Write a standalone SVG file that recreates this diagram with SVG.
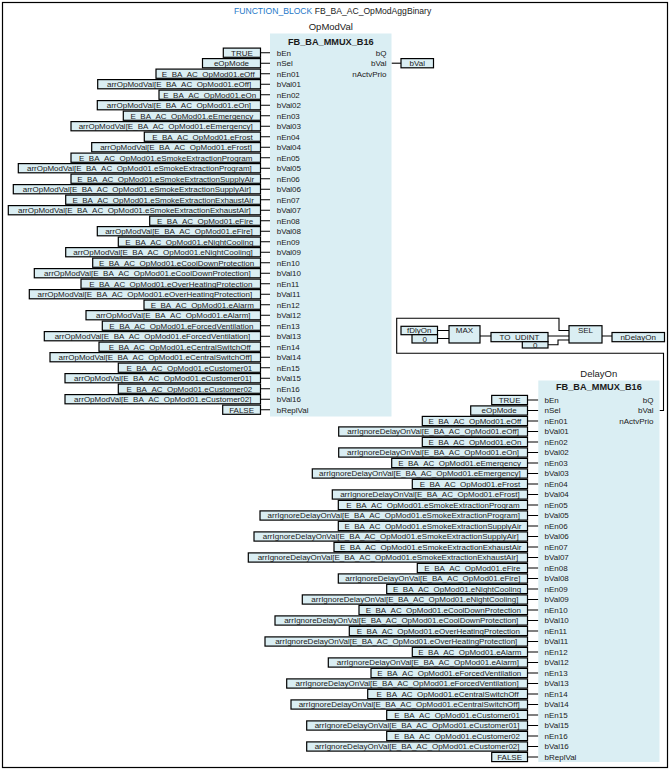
<svg xmlns="http://www.w3.org/2000/svg" width="672" height="771" viewBox="0 0 672 771">
<style>
text{font-family:"Liberation Sans",Arial,sans-serif;font-size:8px;fill:#1a1a1a}
.c{text-anchor:middle}
.r{text-anchor:end}
.ib{fill:#DAEEF3;stroke:#000;stroke-width:1.2}
.blk{fill:#DAEEF3}
.ttl{font-weight:bold;font-size:9.2px;text-anchor:middle}
.inst{font-size:9.5px;text-anchor:middle}
.kw{fill:#1E78C8}
.cn{fill:none;stroke:#000;stroke-width:1.1}
</style>
<rect x="2.5" y="2.5" width="665" height="765" fill="#fff" stroke="#000" stroke-width="1.2"/>
<text x="234" y="13.5" style="font-size:8.6px"><tspan class="kw">FUNCTION_BLOCK</tspan> FB_BA_AC_OpModAggBinary</text>

<g id="connectors">
<path class="cn" d="M260.5 52.7H270M260.5 63.2H270M260.5 73.7H270M260.5 84.2H270M260.5 94.7H270M260.5 105.2H270M260.5 115.7H270M260.5 126.2H270M260.5 136.7H270M260.5 147.2H270M260.5 157.7H270M260.5 168.2H270M260.5 178.7H270M260.5 189.2H270M260.5 199.7H270M260.5 210.2H270M260.5 220.7H270M260.5 231.2H270M260.5 241.7H270M260.5 252.2H270M260.5 262.7H270M260.5 273.2H270M260.5 283.7H270M260.5 294.2H270M260.5 304.7H270M260.5 315.2H270M260.5 325.7H270M260.5 336.2H270M260.5 346.7H270M260.5 357.2H270M260.5 367.7H270M260.5 378.2H270M260.5 388.7H270M260.5 399.2H270M260.5 409.7H270"/>
<path class="cn" d="M527.5 400H538.3M527.5 410.5H538.3M527.5 421H538.3M527.5 431.5H538.3M527.5 442H538.3M527.5 452.5H538.3M527.5 463H538.3M527.5 473.5H538.3M527.5 484H538.3M527.5 494.5H538.3M527.5 505H538.3M527.5 515.5H538.3M527.5 526H538.3M527.5 536.5H538.3M527.5 547H538.3M527.5 557.5H538.3M527.5 568H538.3M527.5 578.5H538.3M527.5 589H538.3M527.5 599.5H538.3M527.5 610H538.3M527.5 620.5H538.3M527.5 631H538.3M527.5 641.5H538.3M527.5 652H538.3M527.5 662.5H538.3M527.5 673H538.3M527.5 683.5H538.3M527.5 694H538.3M527.5 704.5H538.3M527.5 715H538.3M527.5 725.5H538.3M527.5 736H538.3M527.5 746.5H538.3M527.5 757H538.3"/>
<path class="cn" d="M391.5 63.2H401"/>
<path class="cn" d="M659.5 410.5H663.5V353.3H396.7V318.3H559V330.5H569"/>
<path class="cn" d="M437.5 330.5H449M437.5 338.5H449M480 336H491M548 336H569M548 344.7H558V340H569M602 336H612"/>
</g>

<g id="OpModVal">
<text class="inst" x="330.8" y="30">OpModVal</text>
<rect class="blk" x="270" y="33.5" width="121.5" height="383"/>
<text class="ttl" x="330.8" y="44.5">FB_BA_MMUX_B16</text>
<text x="276.7" y="55.6">bEn</text><text x="276.7" y="66.1">nSel</text>
<text x="276.7" y="76.6">nEn01</text><text x="276.7" y="87.1">bVal01</text>
<text x="276.7" y="97.6">nEn02</text><text x="276.7" y="108.1">bVal02</text>
<text x="276.7" y="118.6">nEn03</text><text x="276.7" y="129.1">bVal03</text>
<text x="276.7" y="139.6">nEn04</text><text x="276.7" y="150.1">bVal04</text>
<text x="276.7" y="160.6">nEn05</text><text x="276.7" y="171.1">bVal05</text>
<text x="276.7" y="181.6">nEn06</text><text x="276.7" y="192.1">bVal06</text>
<text x="276.7" y="202.6">nEn07</text><text x="276.7" y="213.1">bVal07</text>
<text x="276.7" y="223.6">nEn08</text><text x="276.7" y="234.1">bVal08</text>
<text x="276.7" y="244.6">nEn09</text><text x="276.7" y="255.1">bVal09</text>
<text x="276.7" y="265.6">nEn10</text><text x="276.7" y="276.1">bVal10</text>
<text x="276.7" y="286.6">nEn11</text><text x="276.7" y="297.1">bVal11</text>
<text x="276.7" y="307.6">nEn12</text><text x="276.7" y="318.1">bVal12</text>
<text x="276.7" y="328.6">nEn13</text><text x="276.7" y="339.1">bVal13</text>
<text x="276.7" y="349.6">nEn14</text><text x="276.7" y="360.1">bVal14</text>
<text x="276.7" y="370.6">nEn15</text><text x="276.7" y="381.1">bVal15</text>
<text x="276.7" y="391.6">nEn16</text><text x="276.7" y="402.1">bVal16</text>
<text x="276.7" y="412.6">bReplVal</text>
<text class="r" x="386.5" y="55.6">bQ</text>
<text class="r" x="386.5" y="66.1">bVal</text>
<text class="r" x="386.5" y="76.6">nActvPrio</text>
</g>
<g id="out-bVal"><rect class="ib" x="401" y="58.6" width="32.5" height="9.2"/><text class="c" x="417.2" y="66.1">bVal</text></g>

<g id="a00"><rect class="ib" x="223.3" y="48.1" width="37.2" height="9.2"/><text class="c" x="241.9" y="55.6">TRUE</text></g>
<g id="a01"><rect class="ib" x="202.5" y="58.6" width="58" height="9.2"/><text class="c" x="231.5" y="66.1">eOpMode</text></g>
<g id="a02"><rect class="ib" x="156" y="69.1" width="104.5" height="9.2"/><text class="c" x="208.25" y="76.6">E_BA_AC_OpMod01.eOff</text></g>
<g id="a03"><rect class="ib" x="97.7" y="79.6" width="162.8" height="9.2"/><text class="c" x="179.1" y="87.1">arrOpModVal[E_BA_AC_OpMod01.eOff]</text></g>
<g id="a04"><rect class="ib" x="159" y="90.1" width="101.5" height="9.2"/><text class="c" x="209.75" y="97.6">E_BA_AC_OpMod01.eOn</text></g>
<g id="a05"><rect class="ib" x="97.3" y="100.6" width="163.2" height="9.2"/><text class="c" x="178.9" y="108.1">arrOpModVal[E_BA_AC_OpMod01.eOn]</text></g>
<g id="a06"><rect class="ib" x="123.3" y="111.1" width="137.2" height="9.2"/><text class="c" x="191.9" y="118.6">E_BA_AC_OpMod01.eEmergency</text></g>
<g id="a07"><rect class="ib" x="71" y="121.6" width="189.5" height="9.2"/><text class="c" x="165.75" y="129.1">arrOpModVal[E_BA_AC_OpMod01.eEmergency]</text></g>
<g id="a08"><rect class="ib" x="144.3" y="132.1" width="116.2" height="9.2"/><text class="c" x="202.4" y="139.6">E_BA_AC_OpMod01.eFrost</text></g>
<g id="a09"><rect class="ib" x="91.7" y="142.6" width="168.8" height="9.2"/><text class="c" x="176.1" y="150.1">arrOpModVal[E_BA_AC_OpMod01.eFrost]</text></g>
<g id="a10"><rect class="ib" x="71" y="153.1" width="189.5" height="9.2"/><text class="c" x="165.75" y="160.6">E_BA_AC_OpMod01.eSmokeExtractionProgram</text></g>
<g id="a11"><rect class="ib" x="18.3" y="163.6" width="242.2" height="9.2"/><text class="c" x="139.4" y="171.1">arrOpModVal[E_BA_AC_OpMod01.eSmokeExtractionProgram]</text></g>
<g id="a12"><rect class="ib" x="71" y="174.1" width="189.5" height="9.2"/><text class="c" x="165.75" y="181.6">E_BA_AC_OpMod01.eSmokeExtractionSupplyAir</text></g>
<g id="a13"><rect class="ib" x="13.3" y="184.6" width="247.2" height="9.2"/><text class="c" x="136.9" y="192.1">arrOpModVal[E_BA_AC_OpMod01.eSmokeExtractionSupplyAir]</text></g>
<g id="a14"><rect class="ib" x="65.7" y="195.1" width="194.8" height="9.2"/><text class="c" x="163.1" y="202.6">E_BA_AC_OpMod01.eSmokeExtractionExhaustAir</text></g>
<g id="a15"><rect class="ib" x="8.3" y="205.6" width="252.2" height="9.2"/><text class="c" x="134.4" y="213.1">arrOpModVal[E_BA_AC_OpMod01.eSmokeExtractionExhaustAir]</text></g>
<g id="a16"><rect class="ib" x="149.7" y="216.1" width="110.8" height="9.2"/><text class="c" x="205.1" y="223.6">E_BA_AC_OpMod01.eFire</text></g>
<g id="a17"><rect class="ib" x="97.3" y="226.6" width="163.2" height="9.2"/><text class="c" x="178.9" y="234.1">arrOpModVal[E_BA_AC_OpMod01.eFire]</text></g>
<g id="a18"><rect class="ib" x="118.3" y="237.1" width="142.2" height="9.2"/><text class="c" x="189.4" y="244.6">E_BA_AC_OpMod01.eNightCooling</text></g>
<g id="a19"><rect class="ib" x="65.7" y="247.6" width="194.8" height="9.2"/><text class="c" x="163.1" y="255.1">arrOpModVal[E_BA_AC_OpMod01.eNightCooling]</text></g>
<g id="a20"><rect class="ib" x="92.7" y="258.1" width="167.8" height="9.2"/><text class="c" x="176.6" y="265.6">E_BA_AC_OpMod01.eCoolDownProtection</text></g>
<g id="a21"><rect class="ib" x="34.3" y="268.6" width="226.2" height="9.2"/><text class="c" x="147.4" y="276.1">arrOpModVal[E_BA_AC_OpMod01.eCoolDownProtection]</text></g>
<g id="a22"><rect class="ib" x="81" y="279.1" width="179.5" height="9.2"/><text class="c" x="170.75" y="286.6">E_BA_AC_OpMod01.eOverHeatingProtection</text></g>
<g id="a23"><rect class="ib" x="29.3" y="289.6" width="231.2" height="9.2"/><text class="c" x="144.9" y="297.1">arrOpModVal[E_BA_AC_OpMod01.eOverHeatingProtection]</text></g>
<g id="a24"><rect class="ib" x="144" y="300.1" width="116.5" height="9.2"/><text class="c" x="202.25" y="307.6">E_BA_AC_OpMod01.eAlarm</text></g>
<g id="a25"><rect class="ib" x="86" y="310.6" width="174.5" height="9.2"/><text class="c" x="173.25" y="318.1">arrOpModVal[E_BA_AC_OpMod01.eAlarm]</text></g>
<g id="a26"><rect class="ib" x="102.3" y="321.1" width="158.2" height="9.2"/><text class="c" x="181.4" y="328.6">E_BA_AC_OpMod01.eForcedVentilation</text></g>
<g id="a27"><rect class="ib" x="44.3" y="331.6" width="216.2" height="9.2"/><text class="c" x="152.4" y="339.1">arrOpModVal[E_BA_AC_OpMod01.eForcedVentilation]</text></g>
<g id="a28"><rect class="ib" x="99" y="342.1" width="161.5" height="9.2"/><text class="c" x="179.75" y="349.6">E_BA_AC_OpMod01.eCentralSwitchOff</text></g>
<g id="a29"><rect class="ib" x="50" y="352.6" width="210.5" height="9.2"/><text class="c" x="155.25" y="360.1">arrOpModVal[E_BA_AC_OpMod01.eCentralSwitchOff]</text></g>
<g id="a30"><rect class="ib" x="118.3" y="363.1" width="142.2" height="9.2"/><text class="c" x="189.4" y="370.6">E_BA_AC_OpMod01.eCustomer01</text></g>
<g id="a31"><rect class="ib" x="65" y="373.6" width="195.5" height="9.2"/><text class="c" x="162.75" y="381.1">arrOpModVal[E_BA_AC_OpMod01.eCustomer01]</text></g>
<g id="a32"><rect class="ib" x="118.3" y="384.1" width="142.2" height="9.2"/><text class="c" x="189.4" y="391.6">E_BA_AC_OpMod01.eCustomer02</text></g>
<g id="a33"><rect class="ib" x="65" y="394.6" width="195.5" height="9.2"/><text class="c" x="162.75" y="402.1">arrOpModVal[E_BA_AC_OpMod01.eCustomer02]</text></g>
<g id="a34"><rect class="ib" x="222.7" y="405.1" width="37.8" height="9.2"/><text class="c" x="241.6" y="412.6">FALSE</text></g>

<g id="fDlyOn"><rect class="ib" x="401" y="326.3" width="36.5" height="8.4"/><text class="c" x="419.2" y="333.3">fDlyOn</text></g>
<g id="c0a"><rect class="ib" x="412" y="334.7" width="25.5" height="8.3"/><text class="c" x="424.7" y="341.6">0</text></g>
<g id="MAX"><rect class="ib" x="449" y="325.7" width="31" height="17.3"/><text class="c" x="464.5" y="332.5">MAX</text></g>
<g id="TO_UDINT"><rect class="ib" x="491" y="332.5" width="57" height="9.2"/><text class="c" x="519.5" y="339.8">TO_UDINT</text></g>
<g id="c0b"><rect class="ib" x="522.3" y="341.7" width="25.7" height="6.3"/><text class="c" x="535.2" y="347.5">0</text></g>
<g id="SEL"><rect class="ib" x="569" y="325.7" width="33" height="17.3"/><text class="c" x="585.5" y="332.5">SEL</text></g>
<g id="nDelayOn"><rect class="ib" x="612" y="332.5" width="52.5" height="9.2"/><text class="c" x="638.2" y="339.8">nDelayOn</text></g>

<g id="DelayOn">
<text class="inst" x="598.8" y="377.3">DelayOn</text>
<rect class="blk" x="538.3" y="380.5" width="121.2" height="381.5"/>
<text class="ttl" x="598.9" y="390.3">FB_BA_MMUX_B16</text>
<text x="544.5" y="402.9">bEn</text><text x="544.5" y="413.4">nSel</text>
<text x="544.5" y="423.9">nEn01</text><text x="544.5" y="434.4">bVal01</text>
<text x="544.5" y="444.9">nEn02</text><text x="544.5" y="455.4">bVal02</text>
<text x="544.5" y="465.9">nEn03</text><text x="544.5" y="476.4">bVal03</text>
<text x="544.5" y="486.9">nEn04</text><text x="544.5" y="497.4">bVal04</text>
<text x="544.5" y="507.9">nEn05</text><text x="544.5" y="518.4">bVal05</text>
<text x="544.5" y="528.9">nEn06</text><text x="544.5" y="539.4">bVal06</text>
<text x="544.5" y="549.9">nEn07</text><text x="544.5" y="560.4">bVal07</text>
<text x="544.5" y="570.9">nEn08</text><text x="544.5" y="581.4">bVal08</text>
<text x="544.5" y="591.9">nEn09</text><text x="544.5" y="602.4">bVal09</text>
<text x="544.5" y="612.9">nEn10</text><text x="544.5" y="623.4">bVal10</text>
<text x="544.5" y="633.9">nEn11</text><text x="544.5" y="644.4">bVal11</text>
<text x="544.5" y="654.9">nEn12</text><text x="544.5" y="665.4">bVal12</text>
<text x="544.5" y="675.9">nEn13</text><text x="544.5" y="686.4">bVal13</text>
<text x="544.5" y="696.9">nEn14</text><text x="544.5" y="707.4">bVal14</text>
<text x="544.5" y="717.9">nEn15</text><text x="544.5" y="728.4">bVal15</text>
<text x="544.5" y="738.9">nEn16</text><text x="544.5" y="749.4">bVal16</text>
<text x="544.5" y="759.9">bReplVal</text>
<text class="r" x="653.5" y="402.9">bQ</text>
<text class="r" x="653.5" y="413.4">bVal</text>
<text class="r" x="653.5" y="423.9">nActvPrio</text>
</g>

<g id="b00"><rect class="ib" x="491.7" y="395.4" width="35.8" height="9.2"/><text class="c" x="509.6" y="402.9">TRUE</text></g>
<g id="b01"><rect class="ib" x="470.7" y="405.9" width="56.8" height="9.2"/><text class="c" x="499.1" y="413.4">eOpMode</text></g>
<g id="b02"><rect class="ib" x="422.3" y="416.4" width="105.2" height="9.2"/><text class="c" x="474.9" y="423.9">E_BA_AC_OpMod01.eOff</text></g>
<g id="b03"><rect class="ib" x="338.7" y="426.9" width="188.8" height="9.2"/><text class="c" x="433.1" y="434.4">arrIgnoreDelayOnVal[E_BA_AC_OpMod01.eOff]</text></g>
<g id="b04"><rect class="ib" x="422.3" y="437.4" width="105.2" height="9.2"/><text class="c" x="474.9" y="444.9">E_BA_AC_OpMod01.eOn</text></g>
<g id="b05"><rect class="ib" x="338.7" y="447.9" width="188.8" height="9.2"/><text class="c" x="433.1" y="455.4">arrIgnoreDelayOnVal[E_BA_AC_OpMod01.eOn]</text></g>
<g id="b06"><rect class="ib" x="391.7" y="458.4" width="135.8" height="9.2"/><text class="c" x="459.6" y="465.9">E_BA_AC_OpMod01.eEmergency</text></g>
<g id="b07"><rect class="ib" x="312.3" y="468.9" width="215.2" height="9.2"/><text class="c" x="419.9" y="476.4">arrIgnoreDelayOnVal[E_BA_AC_OpMod01.eEmergency]</text></g>
<g id="b08"><rect class="ib" x="412.3" y="479.4" width="115.2" height="9.2"/><text class="c" x="469.9" y="486.9">E_BA_AC_OpMod01.eFrost</text></g>
<g id="b09"><rect class="ib" x="332.3" y="489.9" width="195.2" height="9.2"/><text class="c" x="429.9" y="497.4">arrIgnoreDelayOnVal[E_BA_AC_OpMod01.eFrost]</text></g>
<g id="b10"><rect class="ib" x="338.3" y="500.4" width="189.2" height="9.2"/><text class="c" x="432.9" y="507.9">E_BA_AC_OpMod01.eSmokeExtractionProgram</text></g>
<g id="b11"><rect class="ib" x="260" y="510.9" width="267.5" height="9.2"/><text class="c" x="393.75" y="518.4">arrIgnoreDelayOnVal[E_BA_AC_OpMod01.eSmokeExtractionProgram]</text></g>
<g id="b12"><rect class="ib" x="338.3" y="521.4" width="189.2" height="9.2"/><text class="c" x="432.9" y="528.9">E_BA_AC_OpMod01.eSmokeExtractionSupplyAir</text></g>
<g id="b13"><rect class="ib" x="254" y="531.9" width="273.5" height="9.2"/><text class="c" x="390.75" y="539.4">arrIgnoreDelayOnVal[E_BA_AC_OpMod01.eSmokeExtractionSupplyAir]</text></g>
<g id="b14"><rect class="ib" x="334" y="542.4" width="193.5" height="9.2"/><text class="c" x="430.75" y="549.9">E_BA_AC_OpMod01.eSmokeExtractionExhaustAir</text></g>
<g id="b15"><rect class="ib" x="248.3" y="552.9" width="279.2" height="9.2"/><text class="c" x="387.9" y="560.4">arrIgnoreDelayOnVal[E_BA_AC_OpMod01.eSmokeExtractionExhaustAir]</text></g>
<g id="b16"><rect class="ib" x="417.3" y="563.4" width="110.2" height="9.2"/><text class="c" x="472.4" y="570.9">E_BA_AC_OpMod01.eFire</text></g>
<g id="b17"><rect class="ib" x="338.3" y="573.9" width="189.2" height="9.2"/><text class="c" x="432.9" y="581.4">arrIgnoreDelayOnVal[E_BA_AC_OpMod01.eFire]</text></g>
<g id="b18"><rect class="ib" x="386.7" y="584.4" width="140.8" height="9.2"/><text class="c" x="457.1" y="591.9">E_BA_AC_OpMod01.eNightCooling</text></g>
<g id="b19"><rect class="ib" x="302.3" y="594.9" width="225.2" height="9.2"/><text class="c" x="414.9" y="602.4">arrIgnoreDelayOnVal[E_BA_AC_OpMod01.eNightCooling]</text></g>
<g id="b20"><rect class="ib" x="359" y="605.4" width="168.5" height="9.2"/><text class="c" x="443.25" y="612.9">E_BA_AC_OpMod01.eCoolDownProtection</text></g>
<g id="b21"><rect class="ib" x="275" y="615.9" width="252.5" height="9.2"/><text class="c" x="401.25" y="623.4">arrIgnoreDelayOnVal[E_BA_AC_OpMod01.eCoolDownProtection]</text></g>
<g id="b22"><rect class="ib" x="349.3" y="626.4" width="178.2" height="9.2"/><text class="c" x="438.4" y="633.9">E_BA_AC_OpMod01.eOverHeatingProtection</text></g>
<g id="b23"><rect class="ib" x="265" y="636.9" width="262.5" height="9.2"/><text class="c" x="396.25" y="644.4">arrIgnoreDelayOnVal[E_BA_AC_OpMod01.eOverHeatingProtection]</text></g>
<g id="b24"><rect class="ib" x="412.3" y="647.4" width="115.2" height="9.2"/><text class="c" x="469.9" y="654.9">E_BA_AC_OpMod01.eAlarm</text></g>
<g id="b25"><rect class="ib" x="328.3" y="657.9" width="199.2" height="9.2"/><text class="c" x="427.9" y="665.4">arrIgnoreDelayOnVal[E_BA_AC_OpMod01.eAlarm]</text></g>
<g id="b26"><rect class="ib" x="371" y="668.4" width="156.5" height="9.2"/><text class="c" x="449.25" y="675.9">E_BA_AC_OpMod01.eForcedVentilation</text></g>
<g id="b27"><rect class="ib" x="286.7" y="678.9" width="240.8" height="9.2"/><text class="c" x="407.1" y="686.4">arrIgnoreDelayOnVal[E_BA_AC_OpMod01.eForcedVentilation]</text></g>
<g id="b28"><rect class="ib" x="367.7" y="689.4" width="159.8" height="9.2"/><text class="c" x="447.6" y="696.9">E_BA_AC_OpMod01.eCentralSwitchOff</text></g>
<g id="b29"><rect class="ib" x="291" y="699.9" width="236.5" height="9.2"/><text class="c" x="409.25" y="707.4">arrIgnoreDelayOnVal[E_BA_AC_OpMod01.eCentralSwitchOff]</text></g>
<g id="b30"><rect class="ib" x="386.7" y="710.4" width="140.8" height="9.2"/><text class="c" x="457.1" y="717.9">E_BA_AC_OpMod01.eCustomer01</text></g>
<g id="b31"><rect class="ib" x="306.7" y="720.9" width="220.8" height="9.2"/><text class="c" x="417.1" y="728.4">arrIgnoreDelayOnVal[E_BA_AC_OpMod01.eCustomer01]</text></g>
<g id="b32"><rect class="ib" x="386.7" y="731.4" width="140.8" height="9.2"/><text class="c" x="457.1" y="738.9">E_BA_AC_OpMod01.eCustomer02</text></g>
<g id="b33"><rect class="ib" x="306.7" y="741.9" width="220.8" height="9.2"/><text class="c" x="417.1" y="749.4">arrIgnoreDelayOnVal[E_BA_AC_OpMod01.eCustomer02]</text></g>
<g id="b34"><rect class="ib" x="491.7" y="752.4" width="35.8" height="9.2"/><text class="c" x="509.6" y="759.9">FALSE</text></g>
</svg>
